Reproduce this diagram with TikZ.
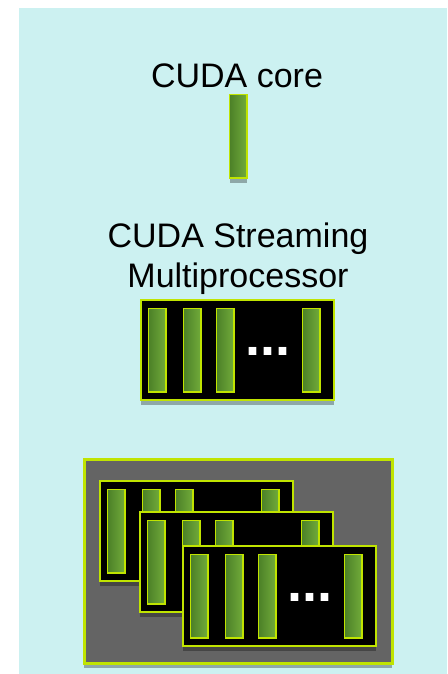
\documentclass[tikz,border=0pt]{standalone}
\usepackage{fontspec}
\setmainfont{Liberation Sans}
\usetikzlibrary{shadows}

\definecolor{bgcyan}{RGB}{204,241,241}
\definecolor{nvlime}{RGB}{192,228,0}
\definecolor{bardark}{RGB}{76,128,40}
\definecolor{barlight}{RGB}{114,172,58}
\definecolor{gpugray}{RGB}{100,100,100}

\tikzset{
    shade/.style={drop shadow={shadow xshift=0pt, shadow yshift=-5pt, fill=black, opacity=0.3}},
    bar/.style={rectangle, draw=nvlime, line width=1.6pt, left color=bardark, right color=barlight,
        minimum width=17.5pt, minimum height=83.5pt, inner sep=0pt, anchor=north west, shade},
    card/.style={rectangle, draw=nvlime, line width=2pt, fill=black,
        minimum width=193pt, minimum height=100pt, inner sep=0pt, anchor=north west, shade},
    dots/.style={text=white, font=\fontsize{54}{54}\bfseries\selectfont, inner sep=0pt, anchor=base},
    label/.style={font=\fontsize{34}{40}\selectfont, align=center, inner sep=0pt, anchor=base}
}

\begin{document}
\begin{tikzpicture}[x=1pt,y=-1pt]
    \useasboundingbox (0,0) rectangle (447,674);
    \fill[bgcyan] (19,8) rectangle (447,674);

    % one core
    \node[label] (corelabel) at (237,88) {CUDA core};
    \node[bar] (core) at (228.8,93.8) {};

    % streaming multiprocessor
    \node[label] (smlabel) at (238,287) {CUDA Streaming\\Multiprocessor};

    % gpu
    \node[rectangle, draw=nvlime, line width=2.5pt, fill=gpugray, minimum width=308pt, minimum height=204pt,
        inner sep=0pt, anchor=north west, shade] (gpu) at (83.2,458.2) {};

    \foreach \n/\x/\y in {sm/140/299, g1/99/480, g2/139/511, g3/182/545} {
        \node[card] (\n) at (\x,\y) {};
        \foreach \i/\dx in {1/7.8, 2/42.8, 3/75.8, 4/161.8}
            \node[bar] (\n-\i) at ([shift={(\dx,8.8)}]\n.north west) {};
        \node[dots] (\n-dots) at ([shift={(128,56.5)}]\n.north west) {...};
    }
\end{tikzpicture}
\end{document}
